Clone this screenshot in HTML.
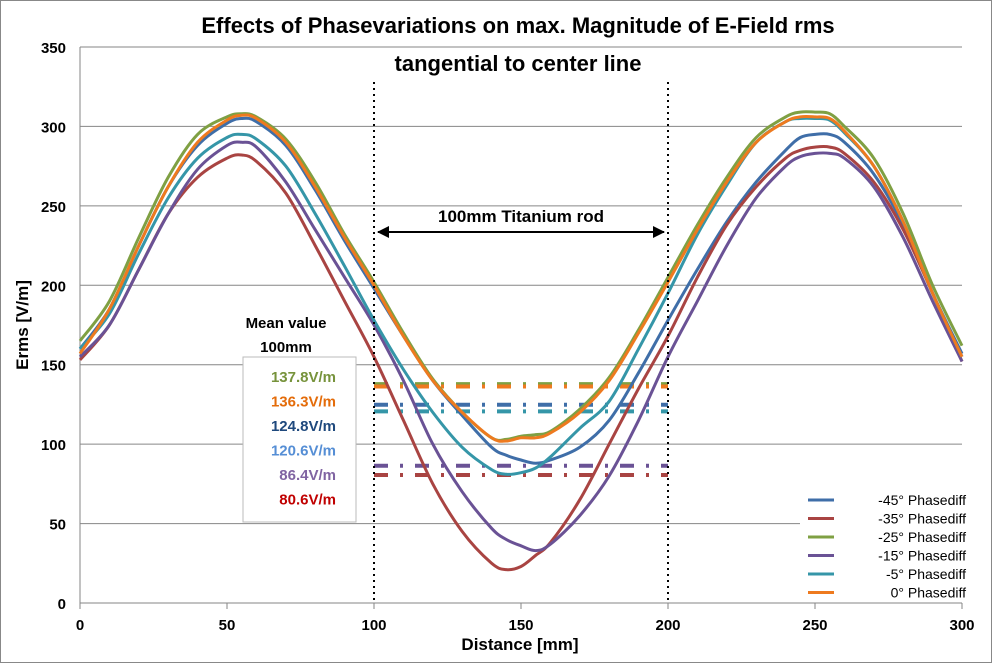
<!DOCTYPE html>
<html><head><meta charset="utf-8"><style>
body{margin:0;background:#fff;font-family:"Liberation Sans",sans-serif}
svg{display:block}
</style></head><body>
<svg id="chart" width="992" height="663" viewBox="0 0 992 663">
<rect x="0.5" y="0.5" width="991" height="662" fill="#fff" stroke="#888"/>
<text x="518" y="33" font-size="22" font-weight="bold" text-anchor="middle">Effects of Phasevariations on max. Magnitude of E-Field rms</text>
<text x="518" y="71" font-size="22" font-weight="bold" text-anchor="middle">tangential to center line</text>
<g id="grid"></g><g id="axes"></g><g id="means"></g><g id="series"></g><g id="annot"></g>
<text x="520" y="650" font-size="17" font-weight="bold" text-anchor="middle">Distance [mm]</text>
<text transform="translate(28,325) rotate(-90)" font-size="17" font-weight="bold" text-anchor="middle">Erms [V/m]</text>
</svg>
<script>
const xTicks=[0,50,100,150,200,250,300];
const yTicks=[0,50,100,150,200,250,300,350];
const seriesNames=["-45° Phasediff","-35° Phasediff","-25° Phasediff","-15° Phasediff","-5° Phasediff","0° Phasediff"];
const seriesColors=["#3f6ea8","#a94442","#7fa043","#6a5295","#3596a8","#ee7a1f"];
const dist=[0,10,20,30,40,50,55,60,70,80,90,100,110,120,130,140,145,150,155,160,170,180,190,200,210,220,230,240,245,250,255,260,270,280,290,300];
const s45=[160,185,225,262,288,302,305,303,288,260,228,198,168,140,118,98,93,90,88,90,98,115,145,178,210,240,265,285,293,295,295,290,270,238,195,157];
const s35=[153,175,210,245,268,280,282,278,258,225,190,155,115,75,45,25,21,23,30,38,65,100,135,168,205,238,262,280,285,287,287,283,265,235,195,152];
const s25=[165,190,230,268,295,306,308,306,292,265,232,202,170,141,120,104,103,105,106,108,122,142,172,205,238,268,293,306,309,309,308,300,280,245,200,162];
const s15=[155,175,210,245,273,288,290,287,265,235,205,175,140,100,70,47,40,36,33,37,55,80,115,155,190,225,255,275,281,283,283,280,262,230,190,152];
const s5=[160,182,220,255,280,293,295,292,275,245,212,178,147,120,98,84,81,82,85,92,110,127,160,195,232,263,290,303,305,305,304,296,275,240,195,155];
const s0=[157,185,225,262,290,304,307,305,290,262,230,200,168,140,120,104,102,104,104,107,120,140,170,202,235,265,290,303,306,306,305,297,275,240,195,155];
const allSeries=[s45,s35,s25,s15,s5,s0];
const meanValues=[124.8,80.6,137.8,86.4,120.6,136.3];
const meanLabels=["137.8V/m","136.3V/m","124.8V/m","120.6V/m","86.4V/m","80.6V/m"];
const meanLabelColors=["#77933c","#e46c0a","#1f497d","#558ed5","#8064a2","#c00000"];
const rodStart=100, rodEnd=200;

const X=v=>80+v*(962-80)/300;
const Y=v=>603-v*(603-47)/350;
const NS="http://www.w3.org/2000/svg";
function mk(tag,parent,attrs){const e=document.createElementNS(NS,tag);for(const k in attrs)e.setAttribute(k,attrs[k]);parent.appendChild(e);return e;}
function smooth(pts){
 let d='M'+pts[0][0].toFixed(1)+','+pts[0][1].toFixed(1);
 for(let i=0;i<pts.length-1;i++){
  const p0=pts[Math.max(0,i-1)],p1=pts[i],p2=pts[i+1],p3=pts[Math.min(pts.length-1,i+2)];
  const c1x=p1[0]+(p2[0]-p0[0])/6,c1y=p1[1]+(p2[1]-p0[1])/6;
  const c2x=p2[0]-(p3[0]-p1[0])/6,c2y=p2[1]-(p3[1]-p1[1])/6;
  d+=` C${c1x.toFixed(1)},${c1y.toFixed(1)} ${c2x.toFixed(1)},${c2y.toFixed(1)} ${p2[0].toFixed(1)},${p2[1].toFixed(1)}`;
 }
 return d;
}
const grid=document.getElementById('grid'),axes=document.getElementById('axes'),means=document.getElementById('means'),ser=document.getElementById('series'),ann=document.getElementById('annot');
yTicks.forEach(t=>{
 if(t>0){const l=mk('line',grid,{x1:80,x2:962,y1:Y(t),y2:Y(t),stroke:'#868686','stroke-width':1});
 
 }
 const tx=mk('text',axes,{x:66,y:Y(t)+6,'font-size':15,'font-weight':'bold','text-anchor':'end'});tx.textContent=t;
 
 
});
xTicks.forEach(t=>{
 const l=mk('line',axes,{x1:X(t),x2:X(t),y1:603,y2:609,stroke:'#868686'});
 
 
 const tx=mk('text',axes,{x:X(t),y:630,'font-size':15,'font-weight':'bold','text-anchor':'middle'});tx.textContent=t;
 
 
});
const xa=mk('line',axes,{x1:80,x2:962,y1:603,y2:603,stroke:'#868686'});


const ya=mk('line',axes,{x1:80,x2:80,y1:47,y2:603,stroke:'#868686'});


meanValues.forEach((m,i)=>{
 const l=mk('line',means,{x1:X(rodStart),x2:X(rodEnd),y1:Y(m),y2:Y(m),stroke:seriesColors[i],'stroke-width':4,'stroke-dasharray':'14,12,3,12'});
 
 
});
allSeries.forEach((s,i)=>{
 const pts=s.map((v,j)=>[X(dist[j]),Y(v)]);
 const p=mk('path',ser,{d:smooth(pts),fill:'none',stroke:seriesColors[i],'stroke-width':3,'stroke-linejoin':'round'});
 
 
});
[rodStart,rodEnd].forEach(r=>{
 const l=mk('line',ann,{x1:X(r),x2:X(r),y1:82,y2:603,stroke:'#000','stroke-width':2,'stroke-dasharray':'2,4'});
 
 
});
const ar=mk('line',ann,{x1:X(rodStart)+4,x2:X(rodEnd)-4,y1:232,y2:232,stroke:'#000','stroke-width':2});


mk('path',ann,{d:`M${X(rodStart)+3},232 l12,-6 l0,12 z M${X(rodEnd)-3},232 l-12,-6 l0,12 z`,fill:'#000'});
const rt=mk('text',ann,{x:X(150),y:222,'font-size':17,'font-weight':'bold','text-anchor':'middle'});rt.textContent='100mm Titanium rod';


const mv1=mk('text',ann,{x:286,y:328,'font-size':15,'font-weight':'bold','text-anchor':'middle'});mv1.textContent='Mean value';


const mv2=mk('text',ann,{x:286,y:352,'font-size':15,'font-weight':'bold','text-anchor':'middle'});mv2.textContent='100mm';


const mb=mk('rect',ann,{x:243,y:357,width:113,height:165,fill:'#fff',stroke:'#bbb'});


meanLabels.forEach((t,i)=>{
 const tx=mk('text',ann,{x:336,y:382+i*24.5,'font-size':15,'font-weight':'bold','text-anchor':'end',fill:meanLabelColors[i]});tx.textContent=t;
 
 
});
const lg=mk('rect',ann,{x:800,y:488,width:170,height:110,fill:'#fff'});


seriesNames.forEach((n,i)=>{
 const yy=500+i*18.5;
 const l=mk('line',ann,{x1:808,x2:834,y1:yy,y2:yy,stroke:seriesColors[i],'stroke-width':3});
 
 
 const tx=mk('text',ann,{x:966,y:yy+5,'font-size':14,'text-anchor':'end'});tx.textContent=n;
 
 
});
</script>
</body></html>
